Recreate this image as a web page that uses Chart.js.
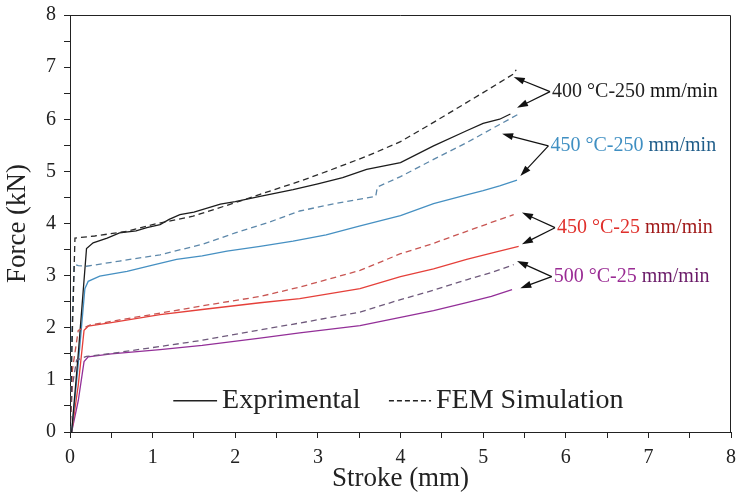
<!DOCTYPE html>
<html>
<head>
<meta charset="utf-8">
<script src="https://cdn.jsdelivr.net/npm/chart.js@4"></script>
<style>
  html, body { margin: 0; padding: 0; background: #fff; }
  #wrap { width: 736px; height: 497px; }
</style>
</head>
<body>
<div id="wrap"><canvas id="canvas-display"></canvas></div>
<script>
// stroke (mm) / force (kN)
var exp400Stroke = [0.02, 0.1, 0.2, 0.28, 0.45, 0.6, 0.8, 0.93, 1.09, 1.2, 1.33, 1.5, 1.82, 2.0, 2.3, 2.7, 3.0, 3.3, 3.59, 4.0, 4.4, 4.8, 5.0, 5.2, 5.33];
var exp400Force = [0, 1.5, 3.52, 3.63, 3.72, 3.82, 3.86, 3.92, 3.98, 4.08, 4.17, 4.22, 4.37, 4.42, 4.52, 4.65, 4.76, 4.88, 5.04, 5.17, 5.49, 5.78, 5.92, 6.0, 6.1];
var fem400Stroke = [0, 0.03, 0.06, 0.3, 0.69, 1.0, 1.49, 2.0, 2.3, 2.78, 3.11, 3.59, 4.0, 4.4, 5.0, 5.37, 5.4];
var fem400Force = [0, 2.0, 3.72, 3.76, 3.85, 3.98, 4.14, 4.4, 4.56, 4.81, 5.0, 5.29, 5.57, 5.94, 6.51, 6.87, 6.95];

var exp450fStroke = [0.02, 0.1, 0.18, 0.22, 0.36, 0.69, 1.0, 1.29, 1.6, 1.9, 2.3, 2.7, 3.1, 3.5, 4.0, 4.4, 4.8, 5.0, 5.2, 5.41];
var exp450fForce = [0, 1.3, 2.75, 2.89, 2.99, 3.08, 3.2, 3.31, 3.38, 3.47, 3.56, 3.66, 3.78, 3.95, 4.15, 4.38, 4.55, 4.63, 4.72, 4.83];
var fem450fStroke = [0, 0.02, 0.05, 0.1, 0.2, 0.6, 1.09, 1.6, 2.0, 2.4, 2.78, 3.2, 3.7, 3.72, 4.0, 4.4, 4.8, 5.2, 5.43];
var fem450fForce = [0, 1.8, 3.22, 3.19, 3.18, 3.28, 3.4, 3.6, 3.82, 4.02, 4.24, 4.38, 4.52, 4.7, 4.9, 5.23, 5.55, 5.9, 6.1];

var exp450sStroke = [0.02, 0.1, 0.17, 0.22, 0.5, 1.09, 1.6, 2.3, 2.78, 3.51, 4.0, 4.4, 4.8, 5.1, 5.43];
var exp450sForce = [0, 0.9, 1.95, 2.03, 2.1, 2.25, 2.35, 2.48, 2.56, 2.75, 2.98, 3.13, 3.31, 3.43, 3.56];
var fem450sStroke = [0, 0.03, 0.1, 0.24, 0.6, 1.09, 1.6, 2.3, 2.78, 3.51, 4.0, 4.4, 4.8, 5.1, 5.37];
var fem450sForce = [0, 1.2, 1.95, 2.05, 2.15, 2.28, 2.42, 2.6, 2.78, 3.1, 3.42, 3.62, 3.85, 4.02, 4.17];

var exp500Stroke = [0.02, 0.1, 0.17, 0.22, 0.5, 1.09, 1.6, 2.3, 2.78, 3.51, 4.0, 4.4, 4.8, 5.1, 5.35];
var exp500Force = [0, 0.6, 1.35, 1.44, 1.5, 1.58, 1.66, 1.8, 1.9, 2.04, 2.2, 2.33, 2.48, 2.6, 2.73];
var fem500Stroke = [0, 0.03, 0.08, 0.2, 0.6, 1.09, 1.6, 2.3, 2.78, 3.51, 4.0, 4.4, 4.8, 5.1, 5.37];
var fem500Force = [0, 0.9, 1.38, 1.45, 1.53, 1.64, 1.76, 1.96, 2.09, 2.3, 2.54, 2.72, 2.92, 3.06, 3.21];

var legendLabels = ['Exprimental', 'FEM Simulation'];
var caseLabels = ['400 \u00B0C-250', '450 \u00B0C-250', '450 \u00B0C-25', '500 \u00B0C-25'];
var rateLabel = ' mm/min';

var serif = "'Times New Roman', 'Liberation Serif', serif";

// label anchors and arrow targets, in data units
var notes = [
    { text: caseLabels[0], color: '#222222', dark: '#111111', at: [5.81, 6.53], tips: [[5.37, 6.81], [5.41, 6.22]] },
    { text: caseLabels[1], color: '#3f8fc2', dark: '#1f5d8a', at: [5.79, 5.49], tips: [[5.23, 5.72], [5.45, 4.91]] },
    { text: caseLabels[2], color: '#e0302c', dark: '#a11a1a', at: [5.87, 3.92], tips: [[5.47, 4.21], [5.47, 3.6]] },
    { text: caseLabels[3], color: '#9a2c94', dark: '#6a1a68', at: [5.83, 2.98], tips: [[5.41, 3.28], [5.45, 2.76]] }
];

function pairs(xs, ys) {
    return xs.map(function (x, i) {
        return { x: x, y: ys[i] };
    });
}

function line(data, color, dashed) {
    return {
        data: data,
        borderColor: color,
        backgroundColor: color,
        borderWidth: 1.3,
        borderDash: dashed ? [6, 4] : [],
        pointRadius: 0,
        tension: 0,
        fill: false
    };
}

function arrow(ctx, x0, y0, x1, y1) {
    var a = Math.atan2(y1 - y0, x1 - x0);
    var len = 11, half = 3.5;
    ctx.beginPath();
    ctx.moveTo(x0, y0);
    ctx.lineTo(x1 - Math.cos(a) * len * 0.8, y1 - Math.sin(a) * len * 0.8);
    ctx.stroke();
    ctx.beginPath();
    ctx.moveTo(x1, y1);
    ctx.lineTo(x1 - Math.cos(a) * len - Math.sin(a) * half, y1 - Math.sin(a) * len + Math.cos(a) * half);
    ctx.lineTo(x1 - Math.cos(a) * len + Math.sin(a) * half, y1 - Math.sin(a) * len - Math.cos(a) * half);
    ctx.closePath();
    ctx.fill();
}

var extras = {
    id: 'extras',
    afterDatasetsDraw: function (chart) {
        var ctx = chart.ctx;
        var a = chart.chartArea;
        var xs = chart.scales.x, ys = chart.scales.y;
        ctx.save();

        // frame
        ctx.strokeStyle = '#222';
        ctx.lineWidth = 1;
        ctx.beginPath();
        ctx.moveTo(a.left, a.top + 0.5);
        ctx.lineTo(a.right - 0.5, a.top + 0.5);
        ctx.lineTo(a.right - 0.5, a.bottom);
        ctx.stroke();

        // legend
        var ly = ys.getPixelForValue(0.6);
        ctx.lineWidth = 1.3;
        ctx.strokeStyle = '#222';
        ctx.beginPath();
        ctx.moveTo(xs.getPixelForValue(1.25), ly);
        ctx.lineTo(xs.getPixelForValue(1.78), ly);
        ctx.stroke();
        ctx.setLineDash([5, 3]);
        ctx.beginPath();
        ctx.moveTo(xs.getPixelForValue(3.86), ly);
        ctx.lineTo(xs.getPixelForValue(4.37), ly);
        ctx.stroke();
        ctx.setLineDash([]);
        ctx.fillStyle = '#222';
        ctx.font = '28px ' + serif;
        ctx.textBaseline = 'middle';
        ctx.textAlign = 'left';
        ctx.fillText(legendLabels[0], xs.getPixelForValue(1.84), ly);
        ctx.fillText(legendLabels[1], xs.getPixelForValue(4.43), ly);

        // case labels with arrows
        notes.forEach(function (n) {
            var vx = xs.getPixelForValue(n.at[0]);
            var vy = ys.getPixelForValue(n.at[1]);
            ctx.strokeStyle = '#111';
            ctx.fillStyle = '#111';
            ctx.lineWidth = 1.2;
            n.tips.forEach(function (t) {
                arrow(ctx, vx, vy, xs.getPixelForValue(t[0]), ys.getPixelForValue(t[1]));
            });
            ctx.font = '20px ' + serif;
            ctx.fillStyle = n.color;
            ctx.fillText(n.text, vx + 2, vy);
            var w = ctx.measureText(n.text).width;
            ctx.fillStyle = n.dark;
            ctx.fillText(rateLabel, vx + 2 + w, vy);
        });
        ctx.restore();
    }
};

function axis(title, size) {
    return {
        type: 'linear',
        min: 0,
        max: 8,
        afterFit: function (s) {
            if (s.axis === 'x') {
                s.height = size;
                s.paddingLeft = 0;
                s.paddingRight = 0;
            } else {
                s.width = size;
                s.paddingTop = 0;
                s.paddingBottom = 0;
            }
        },
        ticks: {
            stepSize: 0.5,
            autoSkip: false,
            maxRotation: 0,
            padding: 8,
            color: '#222',
            font: { family: serif, size: 20 },
            callback: function (v) {
                return Number.isInteger(v) ? v : '';
            }
        },
        grid: {
            drawOnChartArea: false,
            drawTicks: true,
            tickLength: 6,
            color: '#222'
        },
        border: { color: '#222', width: 1 },
        title: {
            display: true,
            text: title,
            color: '#222',
            font: { family: serif, size: 27 },
            padding: { top: 2, bottom: 2 }
        }
    };
}

var ctxC = document.getElementById('canvas-display').getContext('2d');
new Chart(ctxC, {
    type: 'line',
    data: {
        datasets: [
            line(pairs(fem400Stroke, fem400Force), '#2a2a2a', true),
            line(pairs(fem450fStroke, fem450fForce), '#5d88aa', true),
            line(pairs(fem450sStroke, fem450sForce), '#c85552', true),
            line(pairs(fem500Stroke, fem500Force), '#6f5a7c', true),
            line(pairs(exp400Stroke, exp400Force), '#1c1c1c', false),
            line(pairs(exp450fStroke, exp450fForce), '#4690c2', false),
            line(pairs(exp450sStroke, exp450sForce), '#e5403a', false),
            line(pairs(exp500Stroke, exp500Force), '#932f98', false)
        ]
    },
    options: {
        responsive: true,
        maintainAspectRatio: false,
        animation: false,
        layout: { padding: { top: 15, right: 5, left: 0, bottom: 0 } },
        plugins: {
            legend: { display: false },
            tooltip: { enabled: false }
        },
        scales: {
            x: axis('Stroke (mm)', 65),
            y: axis('Force (kN)', 70)
        }
    },
    plugins: [extras]
});
</script>
</body>
</html>
